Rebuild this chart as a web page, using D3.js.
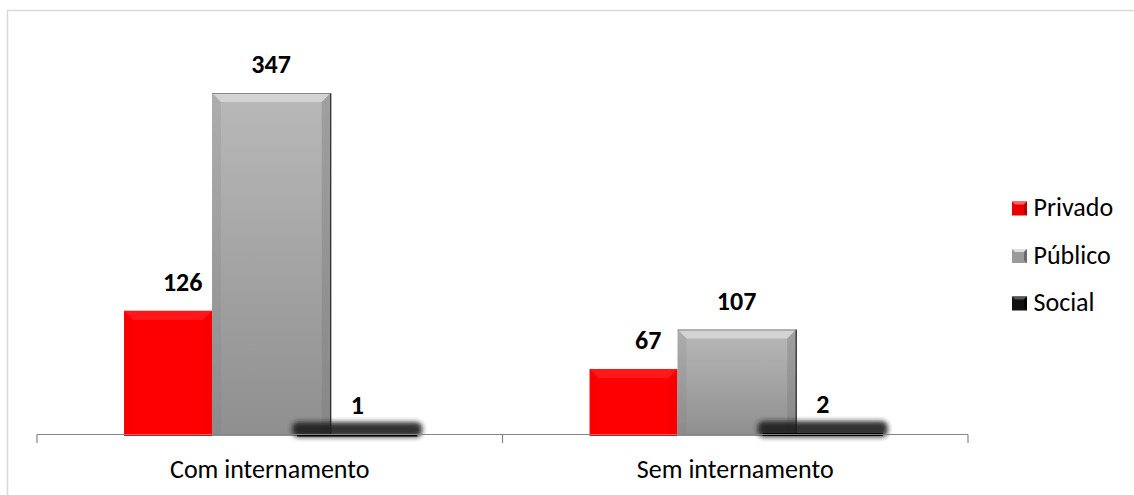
<!DOCTYPE html>
<html><head><meta charset="utf-8">
<script src="https://cdn.jsdelivr.net/npm/d3@7"></script>
<style>
html,body{margin:0;padding:0;background:#fff;}
svg{display:block;font-family:Carlito,Calibri,Lato,sans-serif;}
</style></head>
<body>
<svg id="chart" width="1134" height="495"></svg>
<script>
const categories = ["Com internamento", "Sem internamento"];
const seriesNames = ["Privado", "Público", "Social"];
const privado = [126, 67];
const publico = [347, 107];
const social = [1, 2];

const seriesValues = {"Privado": privado, "Público": publico, "Social": social};

// layout / style (not data)
const layout = {
  "Privado": {f0: 0.187, f1: 0.376, lab: 0.313, light: "#ff3030", dark: "#c00000", mk: ["#ff6060", "#e80000", "#b00000"]},
  "Público": {f0: 0.376, f1: 0.631, lab: 0.503, light: "#dcdcdc", dark: "#7a7a7a", mk: ["#e0e0e0", "#9a9a9a", "#6a6a6a"]},
  "Social":  {f0: 0.559, f1: 0.817, lab: 0.688, light: "#444", dark: "#000", mk: ["#555", "#111", "#000"]}
};

const svg = d3.select("#chart");
const defs = svg.append("defs");

const gGray = defs.append("linearGradient").attr("id", "gGray").attr("x1", 0).attr("y1", 0).attr("x2", 0).attr("y2", 1);
gGray.append("stop").attr("offset", 0).attr("stop-color", "#b9b9b9");
gGray.append("stop").attr("offset", 1).attr("stop-color", "#8f8f8f");
const blur = defs.append("filter").attr("id", "blur").attr("x", "-30%").attr("y", "-200%").attr("width", "160%").attr("height", "500%");
blur.append("feGaussianBlur").attr("stdDeviation", 2.6);

// outer frame
svg.append("rect").attr("x", 7.5).attr("y", 10.5).attr("width", 1200).attr("height", 600)
  .attr("fill", "none").attr("stroke", "#d9d9d9").attr("stroke-width", 1.5);

const x0 = d3.scaleBand().domain(categories).range([37, 968]).padding(0);
const bw = x0.bandwidth();
const xf = d3.scaleLinear().domain([0, 1]).range([0, bw]);
const y = d3.scaleLinear().domain([0, 347]).range([435, 93]);

const fills = {"Privado": "#fe0000", "Público": "url(#gGray)", "Social": "#111"};

function drawBar(g, s, ci) {
  const L = layout[s];
  const v = seriesValues[s][ci];
  const xa = x0(categories[ci]) + xf(L.f0);
  const xb = x0(categories[ci]) + xf(L.f1);
  const yt = y(v), yb = y(0);
  const w = xb - xa, h = yb - yt;
  if (s === "Social") {
    g.append("rect").attr("x", xa - 5).attr("y", yt - 12).attr("width", w + 10).attr("height", h + 14)
      .attr("rx", 6).attr("fill", "#1e1e1e").attr("opacity", 0.9).attr("filter", "url(#blur)");
    g.append("rect").attr("x", xa).attr("y", yt).attr("width", w).attr("height", Math.max(h, 1.5) + 1)
      .attr("fill", "#000");
    return;
  }
  g.append("rect").attr("x", xa).attr("y", yt).attr("width", w).attr("height", h + 1).attr("fill", fills[s]);
  const b = 9;
  g.append("path").attr("d", `M${xa},${yt}L${xb},${yt}L${xb - b},${yt + b}L${xa + b},${yt + b}Z`)
    .attr("fill", L.light).attr("opacity", s === "Público" ? 0.75 : 0.5);
  g.append("path").attr("d", `M${xa},${yt}L${xa + b},${yt + b}L${xa + b},${yb}L${xa},${yb + 1}Z`)
    .attr("fill", L.dark).attr("opacity", s === "Público" ? 0.18 : 0.06);
  g.append("path").attr("d", `M${xb},${yt}L${xb - b},${yt + b}L${xb - b},${yb}L${xb},${yb + 1}Z`)
    .attr("fill", L.dark).attr("opacity", s === "Público" ? 0.4 : 0.1);
  if (s === "Público") {
    g.append("line").attr("x1", xb).attr("x2", xb).attr("y1", yt).attr("y2", yb + 1)
      .attr("stroke", "#222").attr("stroke-width", 1.2);
    g.append("line").attr("x1", xa).attr("x2", xb).attr("y1", yt + 0.5).attr("y2", yt + 0.5)
      .attr("stroke", "#888").attr("stroke-width", 1);
  }
}

const barsG = svg.append("g");
["Privado", "Público", "Social"].forEach(s => {
  categories.forEach((c, ci) => drawBar(barsG, s, ci));
});

// axis
const axisG = svg.append("g");
const ax0 = x0.range()[0], ax1 = x0.range()[1], ay = 434.5;
axisG.append("line").attr("x1", ax0).attr("x2", ax1).attr("y1", ay).attr("y2", ay)
  .attr("stroke", "#868686").attr("stroke-width", 1.2);
const tickXs = categories.map(c => x0(c)).concat([ax1]);
axisG.selectAll("line.tick").data(tickXs).join("line").attr("class", "tick")
  .attr("x1", d => d).attr("x2", d => d).attr("y1", ay).attr("y2", ay + 8.5)
  .attr("stroke", "#868686").attr("stroke-width", 1.2);
axisG.selectAll("text.cat").data(categories).join("text").attr("class", "cat")
  .attr("x", d => x0(d) + bw / 2).attr("y", 478).attr("text-anchor", "middle")
  .attr("font-size", 26).attr("fill", "#000").text(d => d);

// value labels
const labG = svg.append("g");
seriesNames.forEach(s => {
  categories.forEach((c, ci) => {
    const v = seriesValues[s][ci];
    labG.append("text").attr("x", x0(c) + xf(layout[s].lab)).attr("y", y(v) - 20)
      .attr("text-anchor", "middle").attr("font-size", 26).attr("font-weight", "bold")
      .attr("fill", "#000").text(v);
  });
});

// legend
const leg = svg.append("g").attr("transform", "translate(1012,0)");
seriesNames.forEach((s, i) => {
  const cy = 208 + i * 47.5;
  const g = leg.append("g").attr("transform", `translate(0,${cy - 6.5})`);
  const m = layout[s].mk, sz = 15;
  g.append("rect").attr("width", sz).attr("height", sz - 1).attr("fill", m[1]);
  g.append("path").attr("d", `M0,0L${sz},0L${sz / 2},${sz / 2}Z`).attr("fill", m[0]);
  g.append("path").attr("d", `M${sz},0L${sz / 2},${sz / 2}L${sz},${sz - 1}Z`).attr("fill", m[2]);
  g.append("rect").attr("x", 3).attr("y", 3).attr("width", sz - 6).attr("height", sz - 7).attr("fill", m[1]);
  leg.append("text").attr("x", 21.5).attr("y", cy + 8).attr("font-size", 26).attr("fill", "#000").text(s);
});
</script>
</body></html>
